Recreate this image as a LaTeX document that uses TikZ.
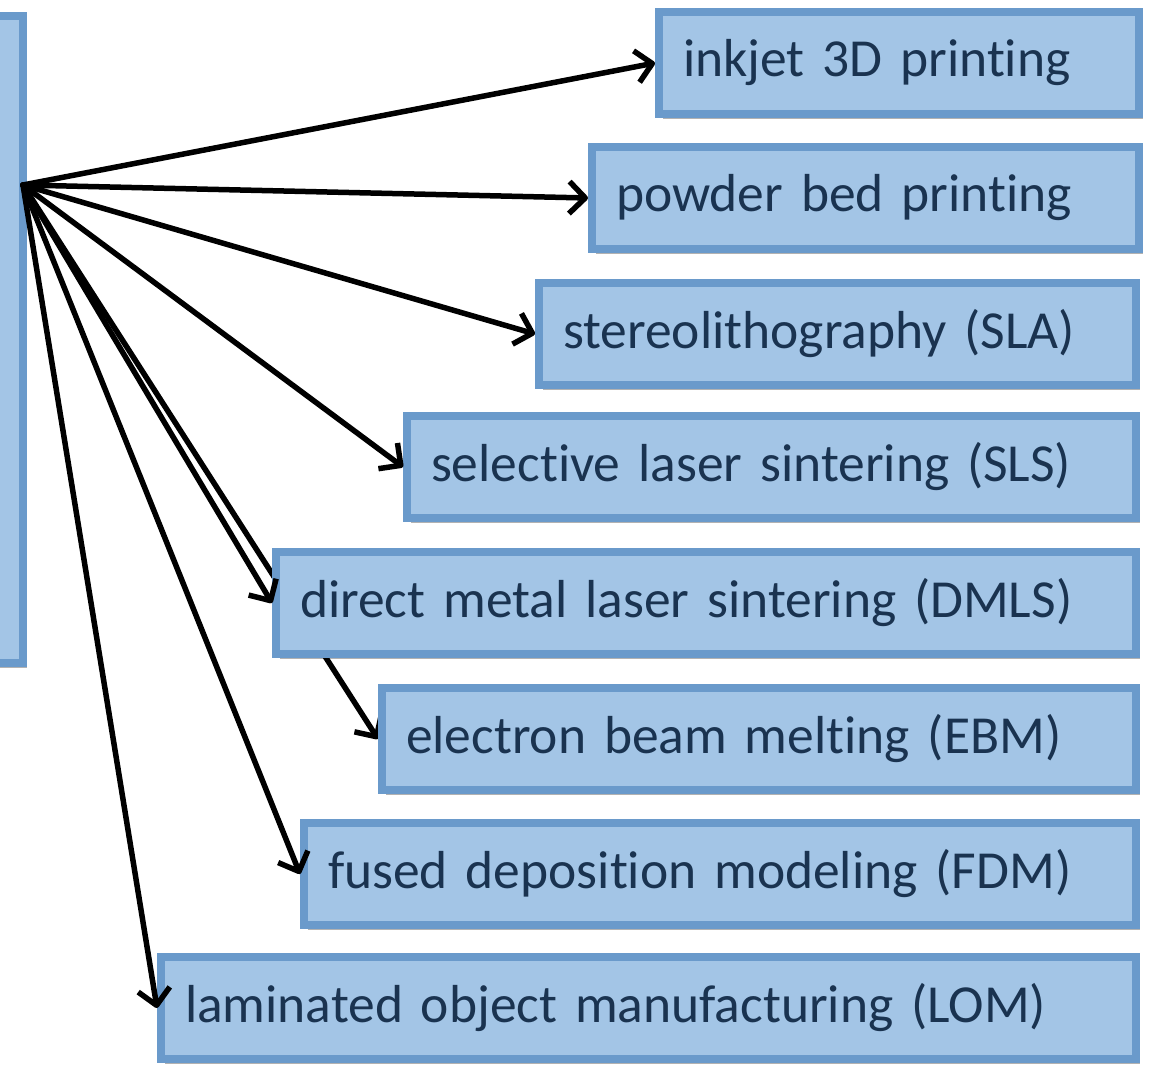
\documentclass[tikz,border=0pt]{standalone}
\usepackage{fontspec}
\setmainfont{Carlito}[Ligatures=NoCommon]
\usetikzlibrary{arrows.meta,shadows}
\definecolor{boxfill}{HTML}{A3C5E6}
\definecolor{boxline}{HTML}{6A9ACB}
\definecolor{boxtext}{HTML}{1A3350}
\pgfdeclarelayer{bg}
\pgfsetlayers{bg,main}
\tikzset{
  proc/.style={rectangle, draw=boxline, fill=boxfill, line width=8pt,
    text=boxtext, align=left, anchor=west, inner xsep=24pt, inner ysep=0pt,
    minimum height=102pt, font=\fontsize{53.5}{62}\selectfont,
    drop shadow={shadow xshift=4pt, shadow yshift=-5pt, fill=black, opacity=0.3}},
  conn/.style={line width=5.5pt, line cap=round, line join=round,
    -{Straight Barb[length=16pt,width=32pt,line join=round]}}
}
\begin{document}
\begin{tikzpicture}[x=1pt,y=-1pt]
\useasboundingbox (0,0) rectangle (1149,1065);
\node[proc, anchor=north east, minimum width=80pt, minimum height=647pt, inner xsep=0pt] (root) at (27,12) {};
\coordinate (hub) at (23,185);
\node[proc, text width=432pt, minimum width=480pt] (ink) at (655,63) {inkjet 3D printing};
\node[proc, text width=499pt, minimum width=547pt] (pow) at (588,198) {powder bed printing};
\node[proc, text width=549pt, minimum width=597pt] (sla) at (535,334) {stereolithography (SLA)};
\node[proc, text width=681pt, minimum width=729pt] (sls) at (403,467) {selective laser sintering (SLS)};
\node[proc, text width=812pt, minimum width=860pt] (dmls) at (272,603) {direct metal laser sintering (DMLS)};
\node[proc, text width=706pt, minimum width=754pt] (ebm) at (378,739) {electron beam melting (EBM)};
\node[proc, text width=784pt, minimum width=832pt] (fdm) at (300,874) {fused deposition modeling (FDM)};
\node[proc, text width=927pt, minimum width=975pt] (lom) at (157,1008) {laminated object manufacturing (LOM)};
\begin{pgfonlayer}{bg}
\draw[conn] (hub) -- (ebm.west);
\end{pgfonlayer}
\draw[conn] (hub) -- (ink.west);
\draw[conn] (hub) -- (pow.west);
\draw[conn] (hub) -- (sla.west);
\draw[conn] (hub) -- (sls.west);
\draw[conn] (hub) -- (dmls.west);
\draw[conn] (hub) -- (fdm.west);
\draw[conn] (hub) -- (lom.west);
\end{tikzpicture}
\end{document}
